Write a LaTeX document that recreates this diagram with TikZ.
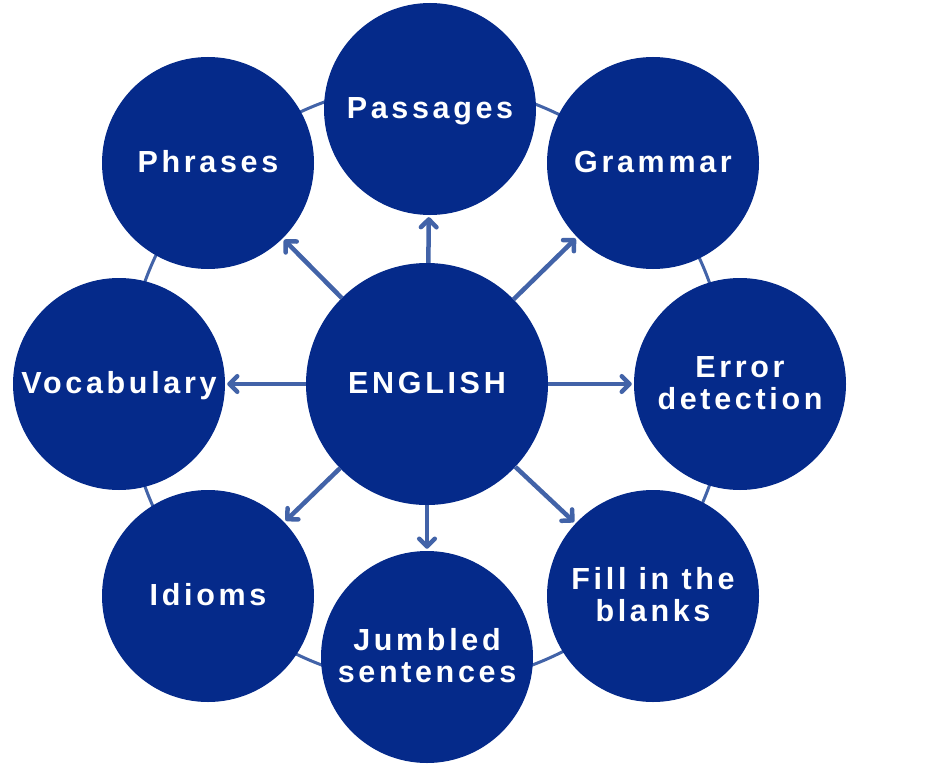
\documentclass[tikz,border=0pt]{standalone}
\usepackage{fontspec}
\setmainfont{Liberation Sans}[LetterSpace=12]
\usetikzlibrary{arrows.meta}
\definecolor{navy}{RGB}{5,42,138}
\definecolor{steel}{RGB}{66,99,168}
\newcommand{\lbl}[1]{\raisebox{-3.5pt}[\height][\depth]{\begin{tabular}{@{}c@{}}#1\end{tabular}}}
\tikzset{
  bubble/.style={circle, fill=navy, minimum size=212pt, inner sep=0pt, text=white, font=\fontsize{30.5}{32}\selectfont\bfseries},
  hub/.style={bubble, minimum size=242pt},
  link/.style={draw=steel, line width=4.5pt, -{Straight Barb[angle=90:11pt, round, line width=4.5pt]}, shorten >=2pt},
  ring/.style={draw=steel, line width=3pt}
}
\begin{document}
\begin{tikzpicture}[x=1pt,y=-1pt]
\useasboundingbox (0,0) rectangle (940,768);
\fill[white] (0,0) rectangle (940,768);
\draw[ring] (427,384) circle[radius=300];
\node[hub] (eng) at (427,384) {\lbl{ENGLISH}};
\node[bubble] (pas) at (430,109) {\lbl{Passages}};
\node[bubble] (gra) at (653,163) {\lbl{Grammar}};
\node[bubble] (err) at (740,384) {\lbl{Error\\detection}};
\node[bubble] (fil) at (653,596) {\lbl{Fill in the\\blanks}};
\node[bubble] (jum) at (427,657) {\lbl{Jumbled\\sentences}};
\node[bubble] (idi) at (208,596) {\lbl{Idioms}};
\node[bubble] (voc) at (119,384) {\lbl{Vocabulary}};
\node[bubble] (phr) at (208,163) {\lbl{Phrases}};
\foreach \t in {pas,gra,err,fil,jum,idi,voc,phr}
  \draw[link] (eng) -- (\t);
\end{tikzpicture}
\end{document}
